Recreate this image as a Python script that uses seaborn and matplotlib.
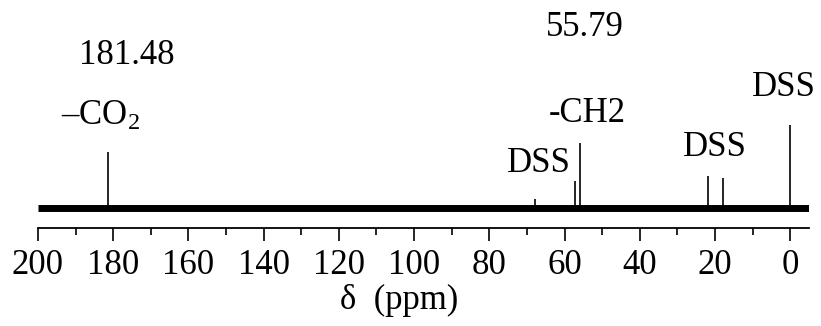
import matplotlib
matplotlib.use("Agg")
import matplotlib.pyplot as plt
import seaborn as sns
import pandas as pd
from matplotlib.ticker import MultipleLocator

# ---- data ----
baseline_ppm = [200.0, -5.0]
baseline_int = [0.0, 0.0]

peak_ppm = [181.48, 57.2, 55.79, 21.8, 17.8, 0.0, 67.8]
peak_height = [56, 27, 65, 32, 30, 83, 9]

label_text = ["181.48", "\u2013CO$_2$", "55.79", "-CH2", "DSS", "DSS", "DSS"]
label_ppm = [176.5, 183.4, 54.7, 54.0, 66.7, 19.9, 1.8]
label_y = [152, 92, 181, 94, 45, 61, 120]

x_ticks = [200, 180, 160, 140, 120, 100, 80, 60, 40, 20, 0]
x_label = "\u03b4  (ppm)"

# ---- style ----
sns.set_style("white")
plt.rcParams["font.family"] = ["Liberation Serif", "DejaVu Serif"]
plt.rcParams["mathtext.fontset"] = "custom"
plt.rcParams["mathtext.rm"] = "Liberation Serif"
plt.rcParams["mathtext.it"] = "Liberation Serif:italic"

W, H = 821, 326
fig = plt.figure(figsize=(W / 100, H / 100), dpi=100)
# axes: x from 38px (200 ppm) to 809px (-5 ppm); bottom spine at y=228px, top at 0
ax = fig.add_axes([38 / W, (H - 228) / H, (809 - 38) / W, 228 / H])
ax.set_xlim(200, -5)
ax.set_ylim(-20, 208)

base_df = pd.DataFrame({"ppm": baseline_ppm, "intensity": baseline_int})
sns.lineplot(data=base_df, x="ppm", y="intensity", ax=ax, color="black",
             linewidth=5.0, solid_capstyle="butt", estimator=None, sort=False)

ax.vlines(peak_ppm, 0, peak_height, color="black", linewidth=1.2)

fs = 25
for t, xp, yp in zip(label_text, label_ppm, label_y):
    ax.text(xp, yp, t, ha="center", va="center", fontsize=fs, color="black")

ax.text(104, -92, x_label, ha="center", va="center", fontsize=fs,
        color="black", clip_on=False)
ax.set_xlabel("")
ax.set_ylabel("")

for s in ["top", "left", "right"]:
    ax.spines[s].set_visible(False)
ax.spines["bottom"].set_linewidth(1.3)
ax.spines["bottom"].set_color("black")
ax.set_yticks([])
ax.set_xticks(x_ticks)
ax.set_xticklabels([str(v) for v in x_ticks])
ax.xaxis.set_minor_locator(MultipleLocator(10))
ax.tick_params(axis="x", which="major", direction="out", length=9, width=1.2,
               colors="black", labelsize=fs, pad=6, bottom=True)
ax.tick_params(axis="x", which="minor", direction="out", length=5, width=1.2,
               colors="black", bottom=True)
ax.patch.set_alpha(0)

fig.savefig("out.png", dpi=100)
